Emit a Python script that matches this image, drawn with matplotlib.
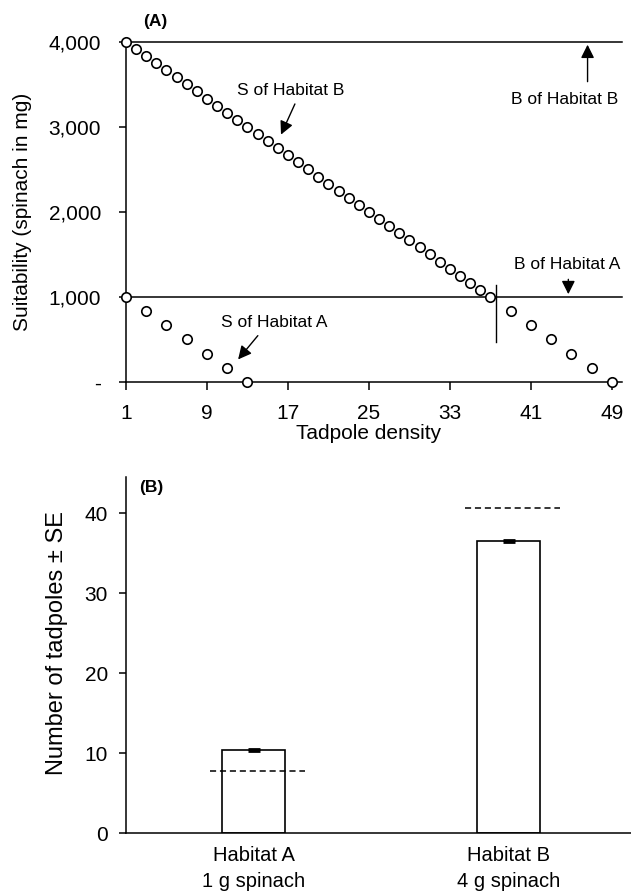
import matplotlib
matplotlib.use("Agg")
import matplotlib.pyplot as plt

plt.rcParams['font.family'] = ['Liberation Sans', 'DejaVu Sans']

# ---- panel A data: suitability vs tadpole density
dens_B = list(range(1, 38))
suit_B = [4000, 3917, 3833, 3750, 3667, 3583, 3500, 3417, 3333, 3250,
          3167, 3083, 3000, 2917, 2833, 2750, 2667, 2583, 2500, 2417,
          2333, 2250, 2167, 2083, 2000, 1917, 1833, 1750, 1667, 1583,
          1500, 1417, 1333, 1250, 1167, 1083, 1000]
dens_A = [1, 3, 5, 7, 9, 11, 13]
suit_A = [1000, 833, 667, 500, 333, 167, 0]
dens_both = [39, 41, 43, 45, 47, 49]
suit_both = [833, 667, 500, 333, 167, 0]
basic_B = 4000
basic_A = 1000
switch_density = 37.6
xticks_A = [1, 9, 17, 25, 33, 41, 49]
yticks_A = [0, 1000, 2000, 3000, 4000]
ylabels_A = ['-', '1,000', '2,000', '3,000', '4,000']

# ---- panel B data: observed tadpoles and predicted distribution
habitats = ['Habitat A\n1 g spinach', 'Habitat B\n4 g spinach']
observed = [10.4, 36.5]
obs_se = [0.15, 0.15]
predicted = [7.8, 40.6]

fig = plt.figure(figsize=(6.31, 8.96), dpi=100)

# ================= (A)
ax = fig.add_axes([0.1997, 0.5737, 0.786, 0.3795])
mk = dict(marker='o', ls='none', ms=6.8, mfc='white', mec='black', mew=1.2, clip_on=False, zorder=3)
ax.plot(dens_B, suit_B, **mk)
ax.plot(dens_A, suit_A, **mk)
ax.plot(dens_both, suit_both, **mk)
ax.axhline(basic_B, color='black', lw=1.1, clip_on=False)
ax.axhline(basic_A, color='black', lw=1.1, clip_on=False)
ax.plot([switch_density, switch_density], [470, 1140], color='black', lw=1.0)

ax.set_xlim(1, 50)
ax.set_ylim(0, 4000)
ax.set_xticks(xticks_A)
ax.set_yticks(yticks_A)
ax.set_yticklabels(ylabels_A)
for s in ['top', 'right']:
    ax.spines[s].set_visible(False)
for s in ['left', 'bottom']:
    ax.spines[s].set_linewidth(1.1)
ax.tick_params(axis='x', direction='out', length=6, width=1.1, pad=10, labelsize=15)
ax.tick_params(axis='y', direction='out', length=5, width=1.1, pad=13, labelsize=15)
ax.set_xlabel('Tadpole density', fontsize=15)
ax.xaxis.set_label_coords(0.49, -0.125)
ax.set_ylabel('Suitability (spinach in mg)', fontsize=15)
ax.yaxis.set_label_coords(-0.19, 0.5)

ax.text(3.9, 4235, '(A)', fontsize=12.5, fontweight='bold', ha='center', va='center')
arr = dict(arrowstyle='-|>', color='black', lw=1.0, mutation_scale=20)
ax.text(17.3, 3430, 'S of Habitat B', fontsize=12.5, ha='center', va='center')
ax.annotate('', xy=(16.2, 2880), xytext=(17.8, 3300), arrowprops=arr)
ax.text(44.3, 3320, 'B of Habitat B', fontsize=12.5, ha='center', va='center')
ax.annotate('', xy=(46.6, 4000), xytext=(46.6, 3500), arrowprops=arr)
ax.text(44.6, 1380, 'B of Habitat A', fontsize=12.5, ha='center', va='center')
ax.annotate('', xy=(44.7, 1000), xytext=(44.7, 1240), arrowprops=arr)
ax.text(15.6, 700, 'S of Habitat A', fontsize=12.5, ha='center', va='center')
ax.annotate('', xy=(11.9, 240), xytext=(14.2, 570), arrowprops=arr)

# ================= (B)
bx = fig.add_axes([0.1997, 0.0703, 0.8003, 0.3973])
pos = [0, 1]
bx.bar(pos, observed, width=0.247, color='white', edgecolor='black', lw=1.2, zorder=2)
bx.errorbar(pos, observed, yerr=obs_se, fmt='none', ecolor='black',
            elinewidth=2, capsize=4, capthick=2, zorder=3)
for p, v in zip(pos, predicted):
    bx.plot([p - 0.17, p + 0.2], [v, v], color='black', lw=1.1, ls=(0, (4, 2.5)), zorder=3)

bx.set_xlim(-0.5, 1.48)
bx.set_ylim(0, 44.5)
bx.set_yticks([0, 10, 20, 30, 40])
bx.set_xticks(pos)
bx.set_xticklabels(habitats, linespacing=1.5)
for s in ['top', 'right']:
    bx.spines[s].set_visible(False)
for s in ['left', 'bottom']:
    bx.spines[s].set_linewidth(1.1)
bx.tick_params(axis='x', length=0, pad=9, labelsize=14.5)
bx.tick_params(axis='y', direction='out', length=5, width=1.1, pad=8, labelsize=15)
bx.set_ylabel('Number of tadpoles \u00b1 SE', fontsize=17)
bx.yaxis.set_label_coords(-0.115, 0.534)
bx.text(0.05, 0.97, '(B)', transform=bx.transAxes, fontsize=12.5, fontweight='bold',
        ha='center', va='center')

fig.savefig('out.png', dpi=100)
